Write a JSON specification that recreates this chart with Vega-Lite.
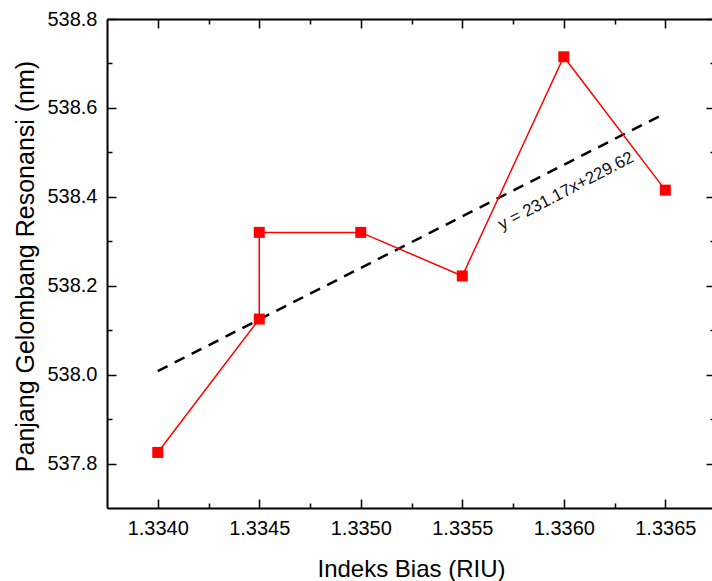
{
  "$schema": "https://vega.github.io/schema/vega-lite/v6.json",
  "width": 605,
  "height": 489,
  "autosize": {"type": "none"},
  "padding": {"left": 107, "top": 19, "right": 0, "bottom": 73},
  "background": "white",
  "config": {
    "view": {"stroke": null},
    "font": "Liberation Sans",
    "axis": {
      "grid": false,
      "domainColor": "#000",
      "domainWidth": 2,
      "tickColor": "#000",
      "tickWidth": 1.5,
      "labelColor": "#000",
      "titleColor": "#000",
      "labelFont": "Liberation Sans",
      "titleFont": "Liberation Sans",
      "labelFontSize": 20,
      "titleFontSize": 24,
      "titleFontWeight": "normal"
    }
  },
  "datasets": {
    "measured": [
      {"idx": 1, "ri": 1.3340, "wl": 537.825},
      {"idx": 2, "ri": 1.3345, "wl": 538.125},
      {"idx": 3, "ri": 1.3345, "wl": 538.32},
      {"idx": 4, "ri": 1.3350, "wl": 538.32},
      {"idx": 5, "ri": 1.3355, "wl": 538.222},
      {"idx": 6, "ri": 1.3360, "wl": 538.715},
      {"idx": 7, "ri": 1.3365, "wl": 538.415}
    ],
    "fit": [
      {"ri": 1.3340, "wl": 538.008},
      {"ri": 1.3365, "wl": 538.588}
    ],
    "label": [
      {"ri": 1.336011, "wl": 538.413, "text": "y = 231.17x+229.62"}
    ]
  },
  "resolve": {"axis": {"x": "independent", "y": "independent"}},
  "layer": [
    {
      "data": {"name": "fit"},
      "mark": {"type": "line", "color": "#000", "strokeWidth": 2.5, "strokeDash": [11, 8]},
      "encoding": {
        "x": {
          "field": "ri", "type": "quantitative",
          "scale": {"domain": [1.33375, 1.33673], "nice": false, "zero": false},
          "axis": {
            "orient": "bottom",
            "values": [1.334, 1.3345, 1.335, 1.3355, 1.336, 1.3365],
            "format": ".4f",
            "tickSize": -9,
            "labelPadding": 19,
            "title": "Indeks Bias (RIU)",
            "titleX": 304,
            "titleY": 68,
            "titleBaseline": "alphabetic",
            "titleAlign": "center"
          }
        },
        "y": {
          "field": "wl", "type": "quantitative",
          "scale": {"domain": [537.7, 538.8], "nice": false, "zero": false},
          "axis": {
            "orient": "left",
            "values": [537.8, 538.0, 538.2, 538.4, 538.6, 538.8],
            "format": ".1f",
            "tickSize": -9,
            "labelPadding": 19,
            "title": "Panjang Gelombang Resonansi (nm)",
            "titleFontSize": 25,
            "titleAngle": 270,
            "titleX": -74,
            "titleY": 247,
            "titleBaseline": "alphabetic",
            "titleAlign": "center"
          }
        }
      }
    },
    {
      "data": {"name": "measured"},
      "mark": {"type": "line", "color": "#ff0000", "strokeWidth": 1.5},
      "encoding": {
        "x": {
          "field": "ri", "type": "quantitative",
          "axis": {
            "orient": "top",
            "values": [1.334, 1.3345, 1.335, 1.3355, 1.336, 1.3365],
            "labels": false,
            "tickSize": -9,
            "title": null
          }
        },
        "y": {
          "field": "wl", "type": "quantitative",
          "axis": {
            "orient": "right",
            "values": [537.8, 538.0, 538.2, 538.4, 538.6, 538.8],
            "labels": false,
            "domain": false,
            "tickSize": -6,
            "title": null
          }
        },
        "order": {"field": "idx", "type": "quantitative"}
      }
    },
    {
      "data": {"name": "measured"},
      "mark": {"type": "point", "shape": "square", "filled": true, "color": "#ff0000", "size": 121, "opacity": 1},
      "encoding": {
        "x": {
          "field": "ri", "type": "quantitative",
          "axis": {
            "orient": "bottom",
            "values": [1.33425, 1.33475, 1.33525, 1.33575, 1.33625],
            "labels": false,
            "domain": false,
            "tickSize": -5,
            "title": null
          }
        },
        "y": {
          "field": "wl", "type": "quantitative",
          "axis": {
            "orient": "left",
            "values": [537.9, 538.1, 538.3, 538.5, 538.7],
            "labels": false,
            "domain": false,
            "tickSize": -5,
            "title": null
          }
        }
      }
    },
    {
      "data": {"name": "label"},
      "mark": {"type": "text", "font": "Liberation Sans", "fontSize": 17, "angle": 332.5, "align": "center", "baseline": "middle", "color": "#111"},
      "encoding": {
        "x": {
          "field": "ri", "type": "quantitative",
          "axis": {
            "orient": "top",
            "values": [1.33425, 1.33475, 1.33525, 1.33575, 1.33625],
            "labels": false,
            "domain": false,
            "tickSize": -5,
            "title": null
          }
        },
        "y": {
          "field": "wl", "type": "quantitative",
          "axis": {
            "orient": "right",
            "values": [537.9, 538.1, 538.3, 538.5, 538.7],
            "labels": false,
            "domain": false,
            "tickSize": -2,
            "title": null
          }
        },
        "text": {"field": "text", "type": "nominal"}
      }
    }
  ]
}
